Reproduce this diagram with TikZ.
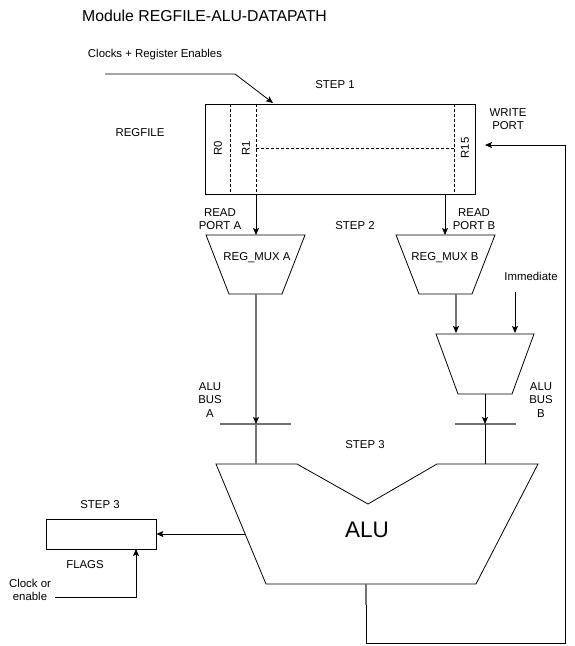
\documentclass[tikz,border=0pt]{standalone}
\usepackage{fontspec}
\setmainfont{Liberation Sans}
\usetikzlibrary{arrows.meta}
\begin{document}
\begin{tikzpicture}[x=1pt,y=-1pt,
  font=\fontsize{11.4}{13.6}\selectfont,
  lbl/.style={inner sep=0pt, align=center},
  ln/.style={draw=black, line width=0.8pt},
  gln/.style={draw=black!55, line width=1.1pt},
  dsh/.style={draw=black, line width=0.7pt, dash pattern=on 3pt off 2pt},
  arr/.style={-{Stealth[length=7pt,width=6pt,inset=1.5pt,color=black]}}]
\useasboundingbox (0,0) rectangle (574,646);

% title and texts
\node[lbl, anchor=west, font=\fontsize{15.8}{18}\selectfont] (title) at (82,16) {Module REGFILE-ALU-DATAPATH};
\node[lbl] (clk) at (155,55) {Clocks + Register Enables};
\node[lbl] (step1) at (335,85) {STEP 1};
\node[lbl] (regfilelbl) at (140,133) {REGFILE};
\node[lbl] (wport) at (508,119) {WRITE\\PORT};
\node[lbl] (rpa) at (220,219) {READ\\PORT A};
\node[lbl] (rpb) at (474,219) {READ\\PORT B};
\node[lbl] (step2) at (355,226) {STEP 2};
\node[lbl] (imm) at (531,276) {Immediate};
\node[lbl] (busa) at (210,400) {ALU\\BUS\\A};
\node[lbl] (busb) at (541,400) {ALU\\BUS\\B};
\node[lbl] (step3) at (365,445) {STEP 3};
\node[lbl] (step3b) at (100,505) {STEP 3};
\node[lbl] (flagslbl) at (85,565) {FLAGS};
\node[lbl] (clken) at (30,590) {Clock or\\enable};

% register file
\node[draw, line width=0.8pt, minimum width=270pt, minimum height=90pt, inner sep=0pt] (rf) at (340,149) {};
\draw[dsh] (230,104) -- (230,194);
\draw[dsh] (256,104) -- (256,194);
\draw[dsh] (454,104) -- (454,194);
\draw[dsh] (256,148) -- (454,148);
\node[lbl, rotate=90] (r0) at (218,148) {R0};
\node[lbl, rotate=90] (r1) at (246,148) {R1};
\node[lbl, rotate=90] (r15) at (465,148) {R15};

% clock arrow into regfile
\coordinate (c0) at (105,74);
\coordinate (c1) at (235,74);
\coordinate (c2) at (273,103);
\draw[ln, arr] (c0) -- (c1) -- (c2);

% read port arrows
\coordinate (rfa) at (256,194);
\coordinate (rfb) at (445,194);
\coordinate (muxatop) at (256,235);
\coordinate (muxbtop) at (445,235);
\draw[ln, arr] (rfa) -- (muxatop);
\draw[ln, arr] (rfb) -- (muxbtop);

% REG_MUX A / B
\draw[ln] (206,235) -- (305,235) -- (282,294) -- (229,294) -- cycle;
\node[lbl] (muxa) at (257,258) {REG\_MUX A};
\draw[ln] (396,235) -- (495,235) -- (472,294) -- (419,294) -- cycle;
\node[lbl] (muxb) at (445,258) {REG\_MUX B};

% immediate mux
\draw[ln] (436,334) -- (534,334) -- (512,394) -- (458,394) -- cycle;
\coordinate (mbout) at (456,294);
\coordinate (imin) at (456,333);
\coordinate (immtop) at (515,292);
\coordinate (immin) at (515,333);
\draw[gln, arr] (mbout) -- (imin);
\draw[ln, arr] (immtop) -- (immin);

% buses
\coordinate (busa1) at (220,424);
\coordinate (busa2) at (291,424);
\coordinate (busb1) at (455,424);
\coordinate (busb2) at (516,424);
\draw[gln] (busa1) -- (busa2);
\draw[gln] (busb1) -- (busb2);
\coordinate (maout) at (256,294);
\coordinate (ain) at (256,424);
\draw[gln, arr] (maout) -- (ain);
\coordinate (smout) at (485,394);
\coordinate (bin) at (485,424);
\draw[ln, arr] (smout) -- (bin);

% ALU
\draw[ln] (216,464) -- (297,464) -- (368,504) -- (437,464) -- (538,464) -- (476,584) -- (266,584) -- cycle;
\node[lbl, font=\fontsize{22.5}{24}\selectfont] (alu) at (367,530) {ALU};
\coordinate (alua) at (256,464);
\coordinate (alub) at (485,464);
\draw[gln] (ain) -- (alua);
\draw[ln] (bin) -- (alub);

% flags
\node[draw, line width=0.8pt, minimum width=110pt, minimum height=30pt, inner sep=0pt] (flags) at (101,534) {};
\coordinate (aluleft) at (245,534);
\draw[ln, arr] (aluleft) -- (flags.east);
\coordinate (ck0) at (55,597);
\coordinate (ck1) at (136,597);
\coordinate (ck2) at (136,549);
\draw[ln, arr] (ck0) -- (ck1) -- (ck2);

% write-back loop
\coordinate (aluout) at (366,584);
\coordinate (w1) at (366,643);
\coordinate (w2) at (565,643);
\coordinate (w3) at (565,145);
\coordinate (w4) at (485,145);
\draw[gln] (aluout) -- (366,605);
\draw[ln] (366,605) -- (w1) -- (w2) -- (w3);
\draw[ln, arr] (w3) -- (w4);
\end{tikzpicture}
\end{document}
